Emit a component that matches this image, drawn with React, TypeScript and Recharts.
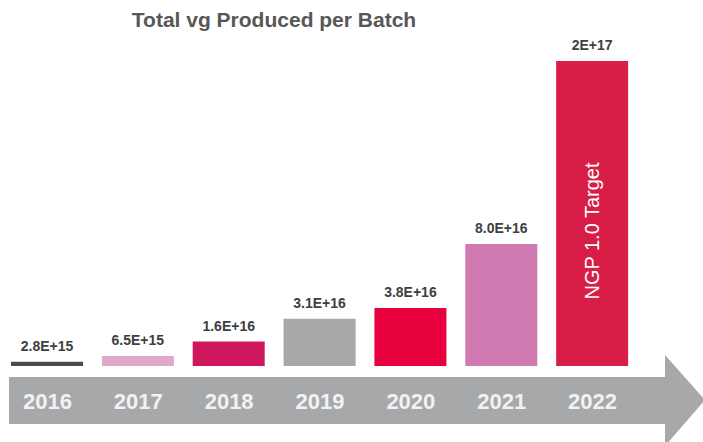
import { BarChart, Bar, XAxis, YAxis, Cell, LabelList } from "recharts";

const years = ["2016", "2017", "2018", "2019", "2020", "2021", "2022"];
const values = [2.8e15, 6.5e15, 1.6e16, 3.1e16, 3.8e16, 8.0e16, 2e17];
const valueLabels = ["2.8E+15", "6.5E+15", "1.6E+16", "3.1E+16", "3.8E+16", "8.0E+16", "2E+17"];
const notes = ["", "", "", "", "", "", "NGP 1.0 Target"];
const colors = ["#4b4b4d", "#e1a9c9", "#d0165c", "#a7a8aa", "#e8003f", "#d07ab2", "#d81e47"];

const data = years.map((year, i) => ({
  year, value: values[i], label: valueLabels[i], note: notes[i],
}));

const W = 703;
const H = 442;

function YearTick({ x, y, payload }: any) {
  return (
    <text x={x} y={y + 35} textAnchor="middle" fill="#f2f2f2"
          fontFamily="'Liberation Sans', Arial, sans-serif" fontWeight="bold" fontSize={22}>
      {payload.value}
    </text>
  );
}

function NoteLabel({ x, y, width, value }: any) {
  if (!value) return null;
  const cx = x + width / 2;
  const cy = y + 170;
  return (
    <text x={cx} y={cy} transform={`rotate(-90 ${cx} ${cy})`} textAnchor="middle"
          dominantBaseline="central" fill="#ffffff"
          fontFamily="'Liberation Sans', Arial, sans-serif" fontSize={20}>
      {value}
    </text>
  );
}

export default function App() {
  return (
    <div style={{ position: "relative", width: W, height: H, background: "#fff" }}>
      <style>{`body{margin:0}`}</style>
      <svg width={W} height={H} style={{ position: "absolute", left: 0, top: 0 }}>
        <text x={274} y={27} textAnchor="middle" fill="#575757"
              fontFamily="'Liberation Sans', Arial, sans-serif" fontWeight="bold" fontSize={21}>
          Total vg Produced per Batch
        </text>
        <polygon points="9,377 665,377 665,355 705,400 665,446 665,424 9,424" fill="#a7a8aa" />
      </svg>
      <div style={{ position: "absolute", left: 0, top: 0 }}>
        <BarChart width={W} height={H} data={data}
                  margin={{ top: 61, right: 65, left: 2, bottom: 0 }}>
          <XAxis dataKey="year" height={76} axisLine={false} tickLine={false}
                 tick={<YearTick />} interval={0} />
          <YAxis hide domain={[0, 2e17]} />
          <Bar dataKey="value" barSize={72} isAnimationActive={false}>
            {data.map((d, i) => (
              <Cell key={d.year} fill={colors[i]} />
            ))}
            <LabelList dataKey="label" position="top" offset={11} fill="#404040"
                       fontFamily="'Liberation Sans', Arial, sans-serif" fontWeight="bold" fontSize={14} />
            <LabelList dataKey="note" content={<NoteLabel />} />
          </Bar>
        </BarChart>
      </div>
    </div>
  );
}
